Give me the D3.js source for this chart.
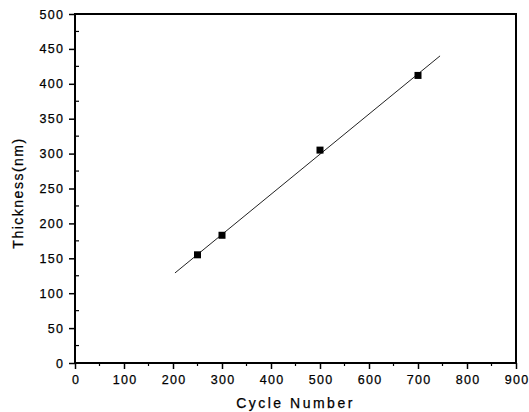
<!DOCTYPE html>
<html>
<head>
<meta charset="utf-8">
<script src="https://cdn.jsdelivr.net/npm/d3@7"></script>
<style>
  html, body { margin: 0; padding: 0; background: #fff; }
  svg text { font-family: "Liberation Sans", Arial, sans-serif; fill: #000; stroke: #000; stroke-width: 0.25px; }
</style>
</head>
<body>
<div class="graph"></div>
<script>
// measured points
const cycles = [250, 300, 500, 700];
const thickness = [155, 183, 305, 412];

// fitted line end points
const fitCycles = [204, 745];
const fitThickness = [129, 440];

const xTicks = [0, 100, 200, 300, 400, 500, 600, 700, 800, 900];
const yTicks = [0, 50, 100, 150, 200, 250, 300, 350, 400, 450, 500];
const xMinor = [50, 150, 250, 350, 450, 550, 650, 750, 850];
const yMinor = [25, 75, 125, 175, 225, 275, 325, 375, 425, 475];

const width = 529,
      height = 412,
      plotL = 75, plotR = 516, plotT = 14, plotB = 363;

const x = d3.scaleLinear().domain([0, 900]).range([plotL, plotR]);
const y = d3.scaleLinear().domain([0, 500]).range([plotB, plotT]);

const svg = d3.select(".graph")
  .append("svg")
  .attr("width", width)
  .attr("height", height);

// frame
svg.append("rect")
  .attr("x", plotL).attr("y", plotT)
  .attr("width", plotR - plotL).attr("height", plotB - plotT)
  .attr("fill", "none")
  .attr("stroke", "#000")
  .attr("stroke-width", 2);

const xAxis = d3.axisBottom(x).tickValues(xTicks).tickSize(6).tickPadding(6);
const yAxis = d3.axisLeft(y).tickValues(yTicks).tickSize(6).tickPadding(6);

const gx = svg.append("g")
  .attr("id", "x-axis")
  .attr("transform", `translate(0, ${plotB})`)
  .call(xAxis);

const gy = svg.append("g")
  .attr("id", "y-axis")
  .attr("transform", `translate(${plotL}, 0)`)
  .call(yAxis);

[gx, gy].forEach(g => {
  g.select(".domain").remove();
  g.selectAll("line").attr("stroke", "#000").attr("stroke-width", 1.5);
  g.selectAll("text")
    .attr("font-size", 12.5)
    .attr("letter-spacing", "1.3px")
    .attr("fill", "#000");
});
gx.selectAll("text").attr("dx", "0.65px");
gy.selectAll("text").attr("dx", "1.3px");

// minor ticks
svg.append("g")
  .selectAll("line")
  .data(xMinor)
  .enter()
  .append("line")
  .attr("x1", d => x(d)).attr("x2", d => x(d))
  .attr("y1", plotB).attr("y2", plotB + 3)
  .attr("stroke", "#000").attr("stroke-width", 1.2);

svg.append("g")
  .selectAll("line")
  .data(yMinor)
  .enter()
  .append("line")
  .attr("x1", plotL).attr("x2", plotL + 4)
  .attr("y1", d => y(d)).attr("y2", d => y(d))
  .attr("stroke", "#000").attr("stroke-width", 1.2);

// fit line
svg.append("line")
  .attr("x1", x(fitCycles[0])).attr("y1", y(fitThickness[0]))
  .attr("x2", x(fitCycles[1])).attr("y2", y(fitThickness[1]))
  .attr("stroke", "#222")
  .attr("stroke-width", 1);

// markers
const s = 7;
svg.selectAll("rect.pt")
  .data(cycles)
  .enter()
  .append("rect")
  .attr("class", "pt")
  .attr("x", d => x(d) - s / 2)
  .attr("y", (d, i) => y(thickness[i]) - s / 2)
  .attr("width", s)
  .attr("height", s)
  .attr("fill", "#000");

// axis titles
svg.append("text")
  .attr("x", (plotL + plotR) / 2)
  .attr("y", 408)
  .attr("text-anchor", "middle")
  .attr("font-size", 14)
  .attr("letter-spacing", "2.5px")
  .text("Cycle Number");

svg.append("text")
  .attr("transform", "translate(23, 193) rotate(-90)")
  .attr("text-anchor", "middle")
  .attr("font-size", 14)
  .attr("letter-spacing", "1.5px")
  .text("Thickness(nm)");
</script>
</body>
</html>
